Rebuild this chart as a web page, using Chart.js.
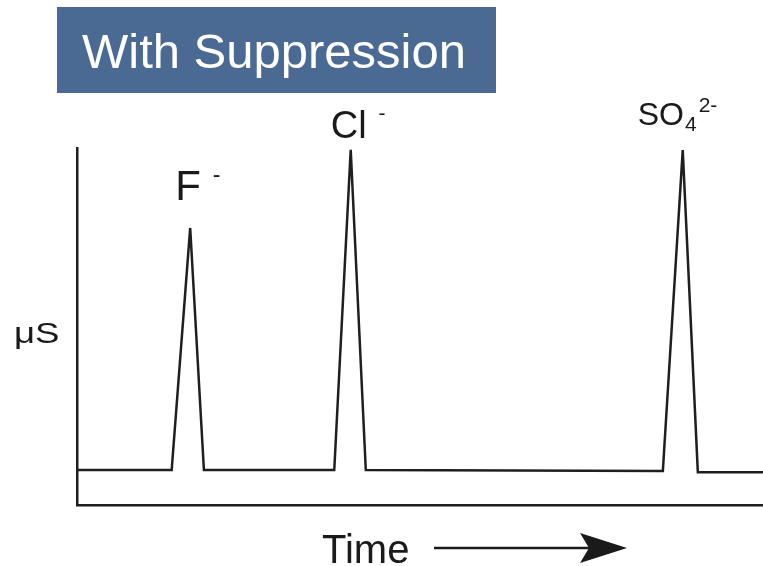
<!DOCTYPE html>
<html>
<head>
<meta charset="utf-8">
<script src="https://cdn.jsdelivr.net/npm/chart.js@4/dist/chart.umd.min.js"></script>
<style>
  html, body { margin: 0; padding: 0; background: #fff; }
  #wrap { width: 763px; height: 566px; }
</style>
</head>
<body>
<div id="wrap"><canvas id="chromChart"></canvas></div>
<script>
// chromatogram trace (time and signal in arbitrary units 0-100)
const timePts = [0, 13.8, 16.5, 18.5, 37.5, 39.9, 42.1, 85.4, 88.3, 90.5, 100];
const signal  = [9.8, 9.8, 77.6, 9.8, 9.8, 99.5, 9.8, 9.5, 99.4, 9.2, 9.2];

// ion labels, one per peak (index into the trace of the apex)
const peakIdx   = [2, 5, 8];
const peakIons  = ['F', 'Cl', 'SO'];
const peakSub   = ['', '', '4'];
const peakSup   = ['-', '-', '2-'];

const titleText = 'With Suppression';
const yTitle = 'μS';
const xTitle = 'Time';

const FONT = '"Liberation Sans", Arial, Helvetica, sans-serif';

const decorPlugin = {
    id: 'decor',
    afterDraw(chart) {
        const ctx = chart.ctx;
        const xs = chart.scales.x, ys = chart.scales.y;
        ctx.save();

        // title box
        ctx.fillStyle = '#4a6a94';
        ctx.fillRect(57, 7, 439, 86);
        ctx.fillStyle = '#ffffff';
        ctx.font = '49px ' + FONT;
        ctx.textAlign = 'center';
        ctx.textBaseline = 'alphabetic';
        ctx.fillText(titleText, 274, 68);

        // y axis label (horizontal)
        ctx.fillStyle = '#1a1a1a';
        ctx.textAlign = 'left';
        ctx.font = '30px ' + FONT;
        ctx.save();
        ctx.translate(14, 343);
        ctx.scale(1.22, 1);
        ctx.fillText(yTitle, 0, 0);
        ctx.restore();

        // x axis label with arrow
        ctx.font = '40px ' + FONT;
        ctx.fillText(xTitle, 322, 563);
        ctx.strokeStyle = '#1a1a1a';
        ctx.lineWidth = 2.5;
        ctx.beginPath();
        ctx.moveTo(434, 548);
        ctx.lineTo(590, 548);
        ctx.stroke();
        ctx.beginPath();
        ctx.moveTo(580, 533);
        ctx.lineTo(627, 548);
        ctx.lineTo(580, 563);
        ctx.lineTo(589, 548);
        ctx.closePath();
        ctx.fill();

        // peak labels, placed relative to each apex
        const offs = [[-15, -28, 42], [-20, -12, 38], [-45, -25, 32]];
        peakIdx.forEach((k, i) => {
            const px = xs.getPixelForValue(timePts[k]);
            const py = ys.getPixelForValue(signal[k]);
            const [dx, dy, size] = offs[i];
            let x = px + dx, y = py + dy;
            ctx.font = size + 'px ' + FONT;
            ctx.fillText(peakIons[i], x, y);
            x += ctx.measureText(peakIons[i]).width;
            if (peakSub[i]) {
                ctx.font = Math.round(size * 0.65) + 'px ' + FONT;
                ctx.fillText(peakSub[i], x + 1, y + 6);
                x += ctx.measureText(peakSub[i]).width + 3;
                ctx.fillText(peakSup[i], x, y - 13);
            } else {
                ctx.font = Math.round(size * 0.55) + 'px ' + FONT;
                ctx.fillText(peakSup[i], x + 12, y - 18);
            }
        });
        ctx.restore();
    }
};

let chromChart;

function setupChromChart() {
    const ctx = document.getElementById('chromChart').getContext('2d');
    chromChart = new Chart(ctx, {
        type: 'line',
        data: {
            datasets: [{
                label: 'conductivity',
                data: timePts.map((t, i) => ({ x: t, y: signal[i] })),
                borderColor: '#1f1f1f',
                borderWidth: 2.5,
                pointRadius: 0,
                tension: 0,
                fill: false
            }]
        },
        options: {
            responsive: true,
            maintainAspectRatio: false,
            animation: false,
            layout: {
                padding: { left: 69, top: 148, right: 0, bottom: 53 }
            },
            plugins: {
                legend: { display: false },
                tooltip: { enabled: false },
                title: { display: false }
            },
            scales: {
                x: {
                    type: 'linear',
                    min: 0,
                    max: 100,
                    ticks: { display: false },
                    grid: { display: false },
                    border: { display: true, color: '#1f1f1f', width: 2.5 }
                },
                y: {
                    min: 0,
                    max: 100,
                    ticks: { display: false },
                    grid: { display: false },
                    border: { display: true, color: '#1f1f1f', width: 2.5 }
                }
            }
        },
        plugins: [decorPlugin]
    });
}

setupChromChart();
</script>
</body>
</html>
